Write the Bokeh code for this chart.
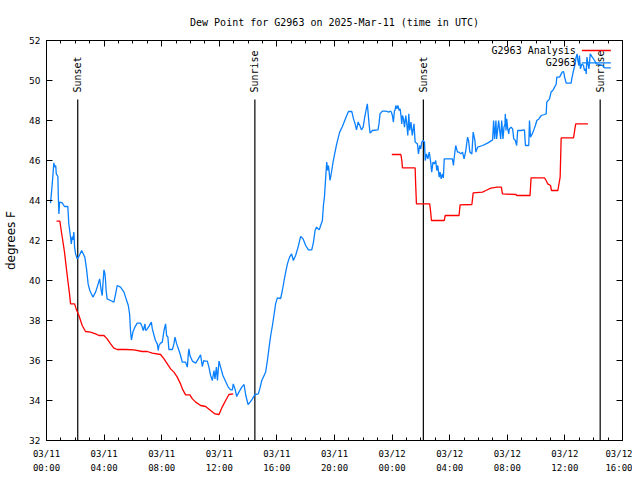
import math
from bokeh.plotting import figure
from bokeh.models import FixedTicker, LinearAxis, Range1d, ColumnDataSource
from bokeh.core.properties import value
from bokeh.embed import file_html
from bokeh.resources import INLINE

# time axis: hours since 2025-03-11 00:00 UTC
obs_hours = [0.28, 0.40, 0.51, 0.58, 0.64, 0.68, 0.79, 0.82, 0.86, 0.91, 1.09, 1.25, 1.48, 1.55, 1.67, 1.72, 1.79, 1.84, 1.90, 1.95,
             2.02, 2.13, 2.25, 2.44, 2.66, 2.78, 2.89, 3.01, 3.22, 3.41, 3.59, 3.69, 3.80, 3.87, 3.92, 3.99, 4.06, 4.10, 4.14, 4.21,
             4.45, 4.68, 4.80, 4.91, 5.14, 5.38, 5.49, 5.68, 5.77, 5.84, 5.90, 6.00, 6.14, 6.30, 6.53, 6.65, 6.72, 6.84, 6.88, 7.00,
             7.12, 7.28, 7.35, 7.47, 7.57, 7.69, 7.76, 7.81, 7.92, 8.04, 8.16, 8.27, 8.34, 8.43, 8.50, 8.74, 8.85, 8.92, 9.04, 9.20,
             9.31, 9.43, 9.66, 9.78, 9.85, 9.89, 9.96, 10.13, 10.36, 10.54, 10.70, 10.82, 10.92, 11.00, 11.17, 11.28, 11.40, 11.52,
             11.63, 11.70, 11.80, 11.87, 11.98, 12.09, 12.25, 12.44, 12.62, 12.79, 12.91, 12.97, 13.09, 13.21, 13.36, 13.56, 13.72,
             13.84, 14.00, 14.14, 14.30, 14.47, 14.71, 14.81, 14.95, 15.11, 15.22, 15.34, 15.46, 15.57, 15.69, 15.81, 15.91, 16.03,
             16.26, 16.38, 16.50, 16.61, 16.73, 16.88, 17.02, 17.14, 17.30, 17.47, 17.65, 17.82, 18.00, 18.19, 18.42, 18.54, 18.65,
             18.75, 18.94, 19.04, 19.16, 19.23, 19.30, 19.39, 19.46, 19.53, 19.58, 19.69, 19.81, 19.90, 20.01, 20.13, 20.24, 20.36,
             20.55, 20.71, 20.85, 20.97, 21.20, 21.32, 21.43, 21.53, 21.64, 21.76, 21.87, 21.99, 22.10, 22.21, 22.28, 22.35, 22.40,
             22.47, 22.63, 23.02, 23.09, 23.16, 23.32, 23.55, 23.79, 23.86, 23.95, 24.02, 24.09, 24.16, 24.21, 24.26, 24.33, 24.40,
             24.49, 24.56, 24.63, 24.67, 24.72, 24.79, 24.86, 24.95, 25.02, 25.09, 25.16, 25.22, 25.31, 25.40, 25.52, 25.60, 25.76,
             25.83, 25.92, 25.99, 26.06, 26.16, 26.25, 26.30, 26.39, 26.48, 26.58, 26.68, 26.75, 26.84, 26.94, 27.03, 27.10, 27.17,
             27.27, 27.33, 27.41, 27.49, 27.56, 27.62, 28.07, 28.19, 28.26, 28.33, 28.42, 28.54, 28.65, 28.77, 28.89, 29.00, 29.12,
             29.24, 29.31, 29.40, 29.54, 29.63, 29.75, 29.82, 29.94, 30.28, 30.63, 30.98, 31.05, 31.12, 31.21, 31.26, 31.40, 31.47,
             31.54, 31.61, 31.70, 31.77, 31.84, 31.86, 31.91, 31.96, 32.03, 32.10, 32.14, 32.26, 32.37, 32.45, 32.56, 32.65, 32.72,
             32.95, 33.19, 33.26, 33.49, 33.54, 33.61, 33.73, 33.84, 33.95, 34.05, 34.19, 34.36, 34.58, 34.70, 34.74, 34.93, 35.04,
             35.16, 35.28, 35.39, 35.44, 35.63, 35.81, 35.91, 35.98, 36.09, 36.43, 36.50, 36.60, 36.71, 36.78, 36.85, 36.90, 36.97,
             37.01, 37.08, 37.18, 37.29, 37.36, 37.44, 37.48, 37.53, 37.60, 37.67, 37.76, 37.90, 38.06, 38.18, 38.62, 38.75, 39.19]
obs_dewpt = [43.87, 44.83, 45.88, 45.67, 45.75, 45.33, 45.2, 44.25, 43.33, 43.92, 43.88, 43.7, 43.7, 42.83, 42.17, 41.83, 42.2, 42.03, 42.42, 41.67,
             41.33, 41.08, 41.2, 41.5, 41.17, 40.58, 39.83, 39.5, 39.17, 39.42, 39.83, 40.08, 39.5, 39.25, 39.83, 40.53, 40.33, 40.0, 39.5, 39.08,
             39.0, 38.92, 39.33, 39.75, 39.67, 39.42, 39.17, 38.75, 38.33, 37.42, 37.03, 37.42, 37.67, 37.87, 37.87, 37.67, 37.5, 37.83, 37.5, 37.58,
             37.72, 37.92, 37.58, 37.25, 37.0, 36.83, 36.5, 36.75, 36.87, 36.92, 37.5, 37.83, 37.25, 37.17, 36.55, 36.55, 36.83, 37.17, 36.83, 36.5,
             36.25, 35.92, 35.92, 35.67, 36.33, 36.58, 36.25, 35.97, 35.87, 36.08, 36.28, 35.7, 36.0, 35.97, 35.97, 35.67, 35.25, 35.0,
             35.5, 35.08, 35.67, 35.0, 35.97, 35.67, 35.25, 34.95, 34.67, 34.53, 34.53, 34.83, 34.58, 34.2, 34.42, 34.67, 34.8,
             34.25, 33.8, 33.92, 34.08, 34.3, 34.33, 34.58, 35.0, 35.25, 35.42, 36.0, 36.67, 37.25, 37.75, 38.33, 38.83, 39.13,
             39.1, 39.5, 40.0, 40.42, 40.83, 41.17, 41.33, 41.0, 41.25, 41.67, 42.2, 42.08, 41.75, 41.53, 41.53, 41.92, 42.5,
             42.67, 42.53, 42.75, 43.0, 43.75, 44.17, 45.17, 45.92, 45.5, 45.75, 45.0, 45.5, 45.92, 46.33, 46.75, 47.08, 47.42,
             47.7, 48.0, 48.25, 48.45, 48.45, 48.08, 47.83, 47.53, 47.92, 47.75, 47.53, 47.67, 48.17, 48.58, 48.83, 48.25, 47.83,
             47.37, 47.5, 47.53, 47.83, 48.33, 48.47, 48.47, 48.42, 48.47, 48.42, 48.25, 47.92, 48.47, 48.53, 48.75, 48.58, 48.75,
             48.5, 48.58, 48.17, 47.83, 48.25, 48.08, 47.67, 48.25, 47.83, 47.25, 48.33, 47.5, 47.92, 47.25, 47.83, 46.92, 46.83,
             46.33, 46.75, 46.58, 46.92, 47.0, 46.92, 46.0, 46.33, 46.08, 46.42, 45.92, 45.42, 45.92, 45.83, 46.0, 45.5, 45.75,
             45.17, 45.42, 45.08, 45.33, 45.13, 46.08, 46.08, 46.08, 45.75, 46.25, 46.75, 46.42, 46.42, 46.33, 46.42, 46.08, 46.5,
             47.17, 47.0, 46.42, 46.33, 47.42, 47.0, 46.42, 46.67, 46.75, 46.87, 47.03, 48.0, 47.08, 48.0, 47.08, 48.0, 47.5,
             47.08, 48.0, 47.08, 47.67, 47.83, 48.33, 47.5, 48.08, 47.58, 47.33, 47.58, 47.67, 47.58, 47.08, 47.0, 46.75, 47.5,
             47.5, 47.53, 46.75, 46.75, 48.0, 47.17, 47.33, 47.53, 47.75, 48.0, 48.08, 48.25, 48.3, 48.33, 48.92, 49.08, 49.42,
             49.5, 49.67, 49.8, 50.17, 50.17, 50.42, 50.45, 50.17, 49.87, 49.87, 50.17, 50.5, 50.83, 51.17, 51.33, 51.0, 50.75,
             51.25, 50.58, 50.83, 50.75, 50.5, 50.58, 50.33, 51.17, 50.83, 50.58, 51.33, 51.17, 51.0, 50.83, 50.75, 50.63, 50.63]

nan = float("nan")
ana_hours = [0.70, 0.93, 1.02, 1.13, 1.25, 1.37, 1.48, 1.60, 1.67, 1.95, 2.06, 2.25, 2.48, 2.71, 3.06, 3.41, 3.64, 3.99, 4.21,
             4.45, 4.68, 4.91, 5.49, 6.07, 6.65, 7.00, 7.35, 7.92, 8.16, 8.39, 8.62, 8.85, 9.08, 9.31, 9.47, 9.66, 9.96, 10.13,
             10.36, 10.70, 11.05, 11.40, 11.70, 11.98, 12.20, 12.44, 12.67, 12.97, nan,
             23.98, 24.61, 24.68, 24.72, 25.60, 25.64, 25.69, 26.61, 26.68, 26.73, 27.62, 27.69, 28.65, 28.72, 29.54, 29.63, 30.28,
             30.51, 30.86, 31.31, 31.59, 31.66, 32.60, 32.67, 33.58, 33.65, 34.58, 34.70, 34.81, 35.00, 35.07, 35.51, 35.67, 35.74,
             36.60, 36.67, 36.75, 37.60]
ana_dewpt = [42.97, 42.97, 42.5, 42.0, 41.42, 40.67, 40.0, 39.33, 38.83, 38.83, 38.58, 38.25, 37.75, 37.45, 37.42, 37.33, 37.25, 37.25, 37.08,
             36.83, 36.62, 36.55, 36.55, 36.53, 36.45, 36.45, 36.37, 36.3, 36.08, 35.83, 35.58, 35.42, 35.17, 34.83, 34.53, 34.28, 34.28, 34.08,
             33.92, 33.75, 33.7, 33.5, 33.33, 33.3, 33.67, 34.0, 34.3, 34.33, nan,
             46.3, 46.3, 45.97, 45.63, 45.63, 44.75, 43.83, 43.83, 43.42, 43.0, 43.0, 43.25, 43.25, 43.78, 43.8, 44.38, 44.42,
             44.5, 44.62, 44.67, 44.67, 44.33, 44.3, 44.25, 44.25, 45.13, 45.13, 45.0, 44.83, 44.75, 44.5, 44.5, 45.17, 47.13,
             47.13, 47.47, 47.83, 47.83]

sun_hours = [2.17, 14.47, 26.17, 38.45]
sun_labels = ["Sunset", "Sunrise", "Sunset", "Sunrise"]

x_tick_hours = [0, 4, 8, 12, 16, 20, 24, 28, 32, 36, 40]
x_tick_dates = ["03/11", "03/11", "03/11", "03/11", "03/11", "03/11",
                "03/12", "03/12", "03/12", "03/12", "03/12"]
x_tick_times = ["00:00", "04:00", "08:00", "12:00", "16:00", "20:00",
                "00:00", "04:00", "08:00", "12:00", "16:00"]
x_minor_hours = list(range(0, 41))
y_ticks = [32, 34, 36, 38, 40, 42, 44, 46, 48, 50, 52]

series_names = ["G2963 Analysis", "G2963"]
series_colors = ["#ff0000", "#0a80ff"]

MONO = "DejaVu Sans Mono"

p = figure(frame_width=576, frame_height=400, output_backend="svg", toolbar_location=None,
           x_range=Range1d(0, 40), y_range=Range1d(32, 52),
           min_border_left=46, min_border_right=10, min_border_top=40, min_border_bottom=36,
           title="Dew Point for G2963 on 2025-Mar-11 (time in UTC)")
p.title.text_font = MONO
p.title.text_font_size = "10px"
p.title.text_font_style = "normal"
p.title.text_color = "black"
p.title.align = "center"
p.title.standoff = 25
p.grid.visible = False
p.outline_line_color = "black"
p.outline_line_width = 1
p.background_fill_color = "white"
p.border_fill_color = "white"

xt = FixedTicker(ticks=x_tick_hours, minor_ticks=x_minor_hours)
yt = FixedTicker(ticks=y_ticks)

xa = p.xaxis[0]
xa.ticker = xt
xa.major_label_overrides = {h: lab for h, lab in zip(x_tick_hours, x_tick_dates)}
xa.major_label_standoff = 8

xb = LinearAxis(ticker=xt)
p.add_layout(xb, "below")
xb.major_label_overrides = {h: lab for h, lab in zip(x_tick_hours, x_tick_times)}
xb.major_label_standoff = 1
xb.axis_line_color = None
xb.major_tick_line_color = None
xb.minor_tick_line_color = None

for ax in (xa, xb):
    ax.major_label_text_font = MONO
    ax.major_label_text_font_size = "9px"
    ax.major_label_text_color = "black"

ya = p.yaxis[0]
ya.ticker = yt
ya.axis_label = "degrees F"
ya.axis_label_text_font = "DejaVu Sans"
ya.axis_label_text_font_size = "12px"
ya.axis_label_text_font_style = "normal"
ya.axis_label_text_color = "black"
ya.axis_label_standoff = 8
ya.major_label_text_font = "DejaVu Sans"
ya.major_label_text_font_size = "9px"
ya.major_label_standoff = 6
ya.major_label_text_color = "black"

top = LinearAxis(ticker=xt)
p.add_layout(top, "above")
right = LinearAxis(ticker=yt)
p.add_layout(right, "right")
top.major_label_overrides = {h: "" for h in x_tick_hours}
right.major_label_overrides = {t: "" for t in y_ticks}
for ax in (top, right):
    ax.major_label_standoff = 0

for ax in (xa, ya, top, right):
    ax.axis_line_color = "black"
    ax.major_tick_line_color = "black"
    ax.minor_tick_line_color = "black"
    ax.major_tick_in = 6
    ax.major_tick_out = 0
    ax.minor_tick_in = 3
    ax.minor_tick_out = 0
for ax in (xb,):
    ax.major_tick_in = 0
    ax.major_tick_out = 0
    ax.minor_tick_in = 0
    ax.minor_tick_out = 0

# sunrise / sunset markers
sun_src = ColumnDataSource(dict(x=sun_hours, label=sun_labels))
p.segment(x0="x", y0=32, x1="x", y1=49.05, source=sun_src, line_color="black", line_width=1.2)
p.text(x="x", y=49.4, text="label", source=sun_src, angle=math.pi / 2, text_align="left",
       text_baseline="middle", text_font=value(MONO), text_font_size="10px", text_color="black")

# data
p.line(ana_hours, ana_dewpt, line_color=series_colors[0], line_width=1.3)
p.line(obs_hours, obs_dewpt, line_color=series_colors[1], line_width=1.3)

# key (gnuplot style: text right-aligned, sample to the right)
key_y = [51.5, 50.88]
p.text(x=[36.76, 36.76], y=key_y, text=series_names, text_align="right", text_baseline="middle",
       text_font=value(MONO), text_font_size="10px", text_color="black")
p.segment(x0=[37.18, 37.18], y0=key_y, x1=[39.19, 39.19], y1=key_y, line_color=series_colors, line_width=1.3)

open("out.html", "w").write(file_html(p, INLINE))
